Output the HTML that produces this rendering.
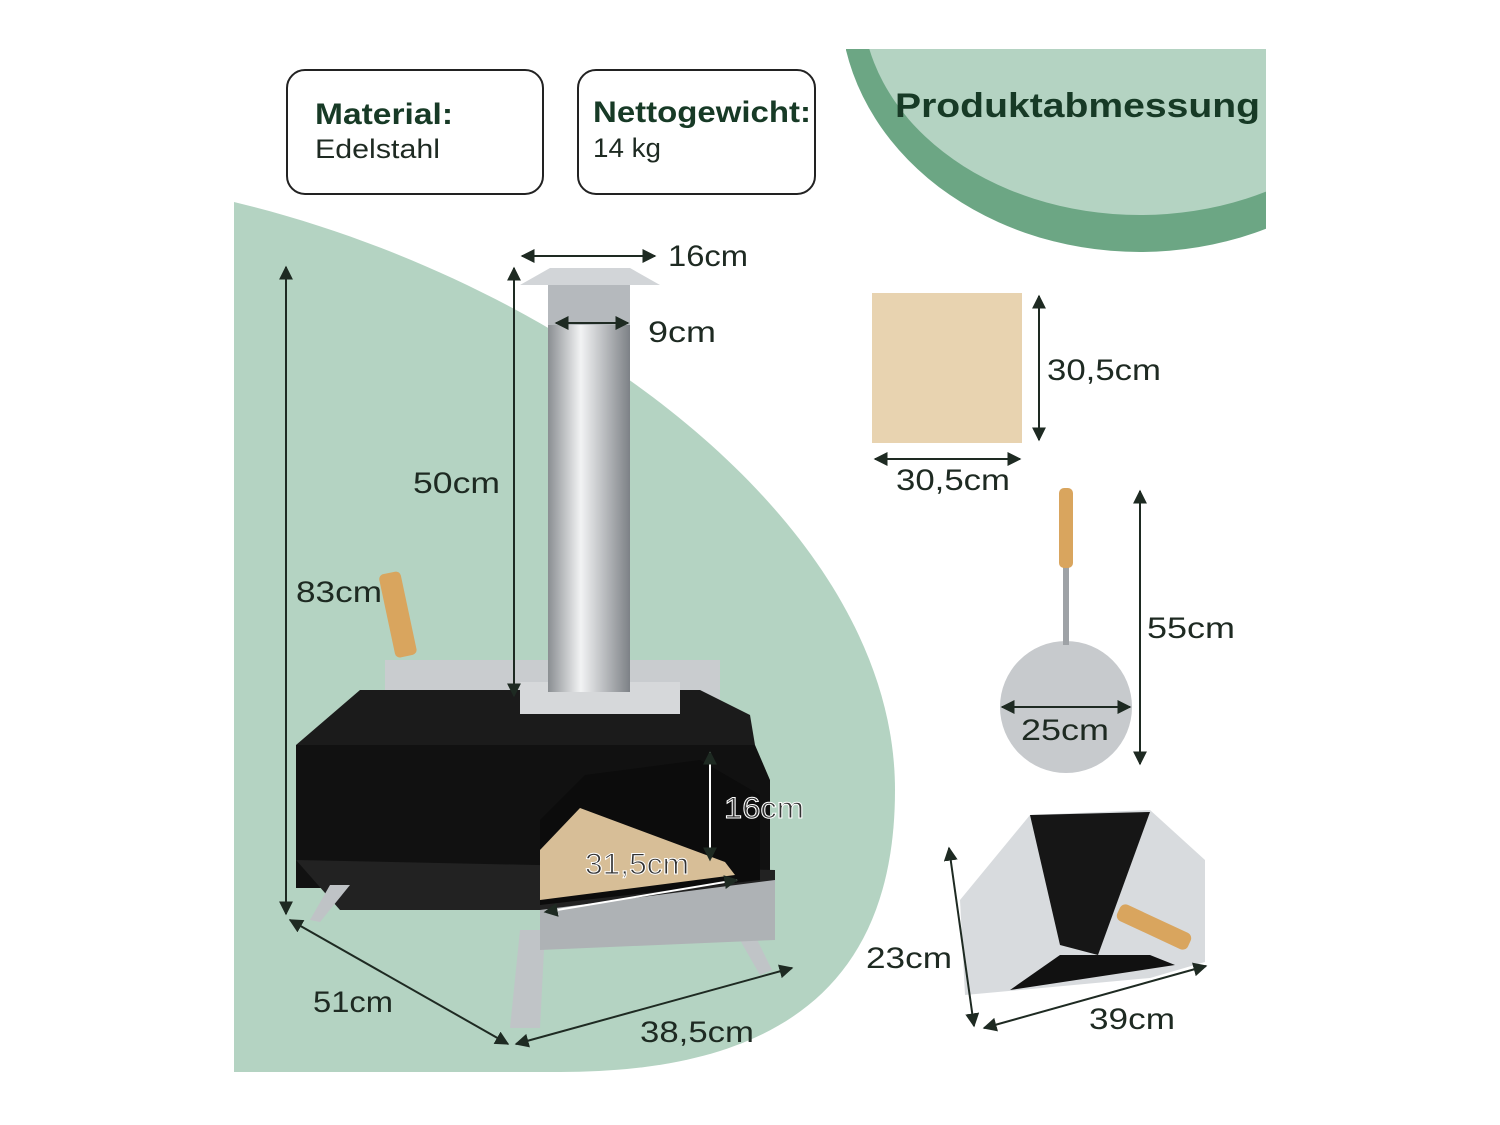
<!DOCTYPE html>
<html><head><meta charset="utf-8"><style>
body{margin:0;background:#fff;width:1500px;height:1125px;overflow:hidden}
svg{display:block}
text{font-family:"Liberation Sans",sans-serif;fill:#1e2a22}
</style></head><body>
<svg width="1500" height="1125" viewBox="0 0 1500 1125">
<defs>
<clipPath id="hc"><rect x="846" y="49" width="420" height="220"/></clipPath>
<marker id="a" viewBox="0 0 10 10" refX="9" refY="5" markerWidth="7" markerHeight="7" orient="auto-start-reverse"><path d="M0,0 L10,5 L0,10 z" fill="#1e2a22"/></marker>
<linearGradient id="st" x1="0" x2="1"><stop offset="0" stop-color="#8a8e92"/><stop offset=".4" stop-color="#f2f3f4"/><stop offset="1" stop-color="#7d8186"/></linearGradient>
</defs>
<g clip-path="url(#hc)">
<ellipse cx="1140" cy="0" rx="300" ry="252" fill="#6ca684"/>
<ellipse cx="1140" cy="0" rx="278" ry="215" fill="#b4d3c2"/>
</g>
<text x="895" y="117" font-size="34" font-weight="bold" textLength="365" lengthAdjust="spacingAndGlyphs" style="fill:#173a26">Produktabmessung</text>
<rect x="287" y="70" width="256" height="124" rx="18" fill="#fff" stroke="#222" stroke-width="2"/>
<text x="315" y="124" font-size="30" font-weight="bold" textLength="138" lengthAdjust="spacingAndGlyphs" style="fill:#173a26">Material:</text>
<text x="315" y="158" font-size="27" textLength="125" lengthAdjust="spacingAndGlyphs">Edelstahl</text>
<rect x="578" y="70" width="237" height="124" rx="18" fill="#fff" stroke="#222" stroke-width="2"/>
<text x="593" y="122" font-size="30" font-weight="bold" textLength="218" lengthAdjust="spacingAndGlyphs" style="fill:#173a26">Nettogewicht:</text>
<text x="593" y="157" font-size="27" textLength="68" lengthAdjust="spacingAndGlyphs">14 kg</text>
<path d="M234,202 C560,280 895,520 895,790 C895,1000 760,1072 560,1072 L234,1072 Z" fill="#b4d3c2"/>
<!-- oven -->
<polygon points="385,660 720,660 720,716 385,716" fill="#c9cccf"/>
<polygon points="296,745 360,690 700,690 750,715 755,745 296,745" fill="#1b1b1b"/>
<polygon points="296,745 755,745 770,780 770,888 296,888 296,810" fill="#111"/>
<polygon points="296,860 340,910 775,910 775,870" fill="#222"/>
<polygon points="330,885 310,920 320,922 350,885" fill="#bfc3c6"/>
<polygon points="520,930 510,1028 540,1028 545,930" fill="#c0c4c7"/>
<polygon points="720,905 760,975 772,970 740,905" fill="#c0c4c7"/>
<polygon points="540,910 775,880 775,940 540,950" fill="#aeb2b5"/>
<polygon points="585,775 700,760 760,795 760,880 540,905 540,820" fill="#0c0c0c"/>
<polygon points="540,900 735,875 725,862 580,808 540,850" fill="#d7be97"/>
<rect x="520" y="682" width="160" height="32" fill="#d6d8da"/>
<rect x="548" y="320" width="82" height="372" fill="url(#st)"/>
<polygon points="520,285 660,285 630,268 550,268" fill="#d2d5d8"/>
<rect x="548" y="285" width="82" height="40" fill="#b5b9bd"/>
<rect x="387" y="572" width="22" height="85" rx="5" transform="rotate(-12 398 615)" fill="#d9a55e"/>
<g stroke="#1e2a22" stroke-width="2" fill="none">
<line x1="522" y1="256" x2="655" y2="256" marker-start="url(#a)" marker-end="url(#a)"/>
<line x1="556" y1="323" x2="628" y2="323" marker-start="url(#a)" marker-end="url(#a)"/>
<line x1="514" y1="268" x2="514" y2="696" marker-start="url(#a)" marker-end="url(#a)"/>
<line x1="286" y1="267" x2="286" y2="914" marker-start="url(#a)" marker-end="url(#a)"/>
<line x1="290" y1="920" x2="508" y2="1044" marker-start="url(#a)" marker-end="url(#a)"/>
<line x1="516" y1="1044" x2="792" y2="968" marker-start="url(#a)" marker-end="url(#a)"/>
<line x1="710" y1="752" x2="710" y2="860" stroke="#fff" marker-start="url(#a)" marker-end="url(#a)"/>
<line x1="545" y1="912" x2="737" y2="880" stroke="#fff" marker-start="url(#a)" marker-end="url(#a)"/>
</g>
<g font-size="30">
<text x="668" y="266" textLength="80" lengthAdjust="spacingAndGlyphs">16cm</text>
<text x="648" y="342" textLength="68" lengthAdjust="spacingAndGlyphs">9cm</text>
<text x="413" y="493" textLength="87" lengthAdjust="spacingAndGlyphs">50cm</text>
<text x="296" y="602" textLength="86" lengthAdjust="spacingAndGlyphs">83cm</text>
<text x="724" y="818" textLength="80" lengthAdjust="spacingAndGlyphs" style="fill:#333;stroke:#fff;stroke-width:1">16cm</text>
<text x="585" y="874" textLength="104" lengthAdjust="spacingAndGlyphs" style="fill:#333;stroke:#fff;stroke-width:1">31,5cm</text>
<text x="313" y="1012" textLength="80" lengthAdjust="spacingAndGlyphs">51cm</text>
<text x="640" y="1042" textLength="114" lengthAdjust="spacingAndGlyphs">38,5cm</text>
</g>
<rect x="872" y="293" width="150" height="150" fill="#e8d3b0"/>
<g stroke="#1e2a22" stroke-width="2" fill="none">
<line x1="1039" y1="296" x2="1039" y2="440" marker-start="url(#a)" marker-end="url(#a)"/>
<line x1="875" y1="459" x2="1020" y2="459" marker-start="url(#a)" marker-end="url(#a)"/>
</g>
<text x="1047" y="380" font-size="30" textLength="114" lengthAdjust="spacingAndGlyphs">30,5cm</text>
<text x="896" y="490" font-size="30" textLength="114" lengthAdjust="spacingAndGlyphs">30,5cm</text>
<circle cx="1066" cy="707" r="66" fill="#c7cacd"/>
<rect x="1063" y="565" width="6" height="80" fill="#9ea2a6"/>
<rect x="1059" y="488" width="14" height="80" rx="5" fill="#d9a55e"/>
<g stroke="#1e2a22" stroke-width="2" fill="none">
<line x1="1140" y1="491" x2="1140" y2="764" marker-start="url(#a)" marker-end="url(#a)"/>
<line x1="1002" y1="707" x2="1130" y2="707" marker-start="url(#a)" marker-end="url(#a)"/>
</g>
<text x="1147" y="638" font-size="30" textLength="88" lengthAdjust="spacingAndGlyphs">55cm</text>
<text x="1021" y="740" font-size="30" textLength="88" lengthAdjust="spacingAndGlyphs">25cm</text>
<polygon points="960,900 1030,815 1150,810 1205,860 1205,962 1150,978 965,995" fill="#d8dbde"/>
<polygon points="1030,815 1150,812 1098,955 1060,945" fill="#161616"/>
<polygon points="1010,990 1060,955 1150,955 1175,965" fill="#111"/>
<rect x="1115" y="918" width="78" height="18" rx="6" transform="rotate(25 1154 927)" fill="#d9a55e"/>
<g stroke="#1e2a22" stroke-width="2" fill="none">
<line x1="949" y1="848" x2="974" y2="1026" marker-start="url(#a)" marker-end="url(#a)"/>
<line x1="984" y1="1028" x2="1206" y2="966" marker-start="url(#a)" marker-end="url(#a)"/>
</g>
<text x="866" y="968" font-size="30" textLength="86" lengthAdjust="spacingAndGlyphs">23cm</text>
<text x="1089" y="1029" font-size="30" textLength="86" lengthAdjust="spacingAndGlyphs">39cm</text>
</svg>
</body></html>
